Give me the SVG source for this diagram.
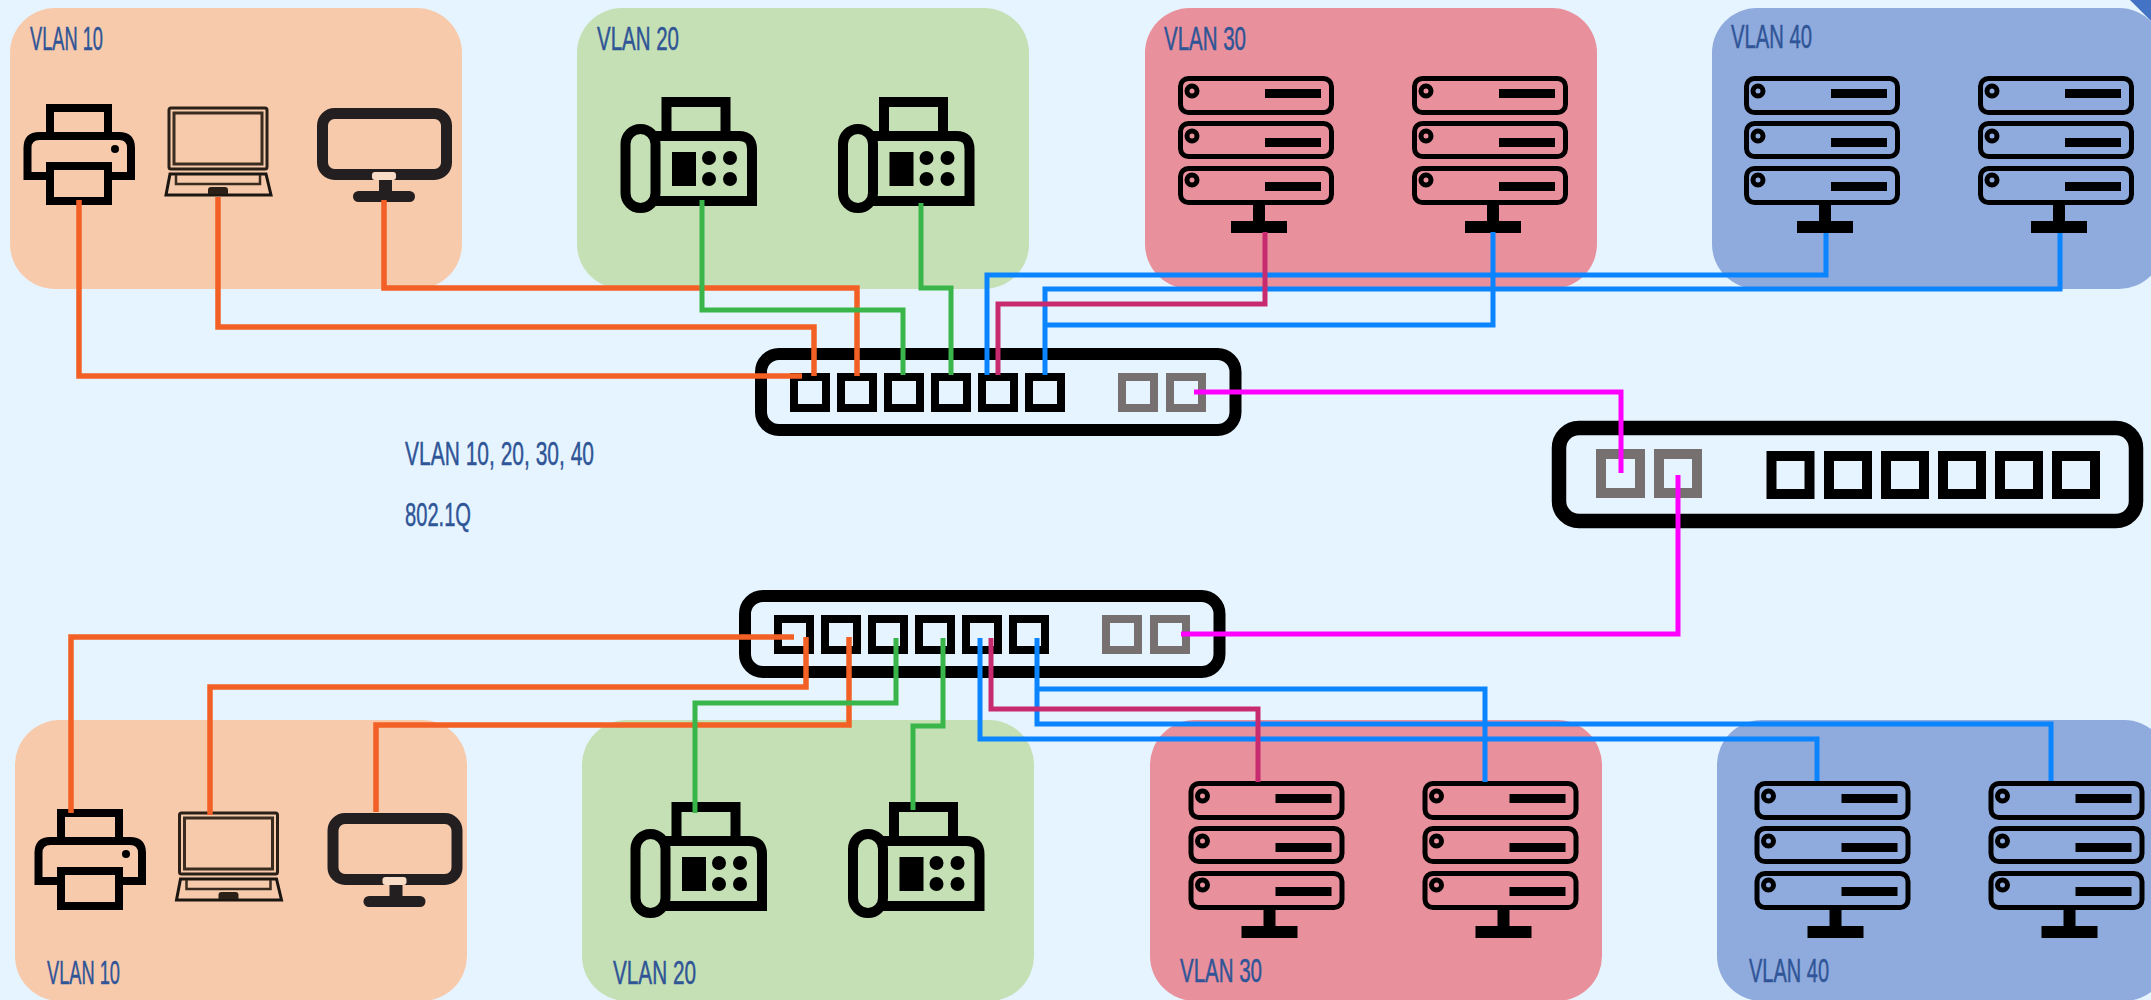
<svg xmlns="http://www.w3.org/2000/svg" width="2151" height="1000" viewBox="0 0 2151 1000">
<style>
.t{font-family:"Liberation Sans",Arial,sans-serif;font-size:33.5px;fill:#2f5597;stroke:#2f5597;stroke-width:.5px}
.p10{fill:#f7caac}.p20{fill:#c5e0b4}.p30{fill:#e8909c}.p40{fill:#8faadc}
.c{fill:none;stroke-width:5;stroke-linejoin:miter}
.o{stroke:#f26026;stroke-width:5.5}.g{stroke:#39b54a}.b{stroke:#0a84ff}.r{stroke:#c72a6e}.m{stroke:#ff00ff}
.k{fill:none;stroke:#000}
.pb{fill:none;stroke:#000;stroke-width:8}
.pg{fill:none;stroke:#767170;stroke-width:8}
</style>
<defs>
<g id="server">
<g class="k" stroke-width="5">
<rect x="1180.500" y="78.500" width="151" height="34" rx="8"/>
<rect x="1180.500" y="123.500" width="151" height="33" rx="8"/>
<rect x="1180.500" y="168.500" width="151" height="34" rx="8"/>
<circle cx="1192" cy="91" r="5"/><circle cx="1192" cy="136" r="5"/><circle cx="1192" cy="180" r="5"/>
</g>
<rect x="1265" y="89" width="56" height="9"/><rect x="1265" y="138" width="56" height="9"/><rect x="1265" y="182" width="56" height="9"/>
<rect x="1253" y="204" width="12" height="18"/><rect x="1231" y="221" width="56" height="12"/>
</g>
<g id="printer">
<path d="M50 134V108H108V134" class="k" stroke-width="8"/>
<path d="M50 176H27.500V148Q27.500 136 39.500 136H119Q131 136 131 148V176H108" class="k" stroke-width="8"/>
<rect x="50" y="166" width="58" height="35" class="k" stroke-width="8"/>
<circle cx="115" cy="149" r="4"/>
</g>
<g id="laptop">
<rect x="169" y="108" width="98" height="61" rx="2" fill="none" stroke="#2a2018" stroke-width="3"/>
<rect x="174" y="113" width="88" height="51" fill="none" stroke="#3a2c20" stroke-width="3"/>
<path d="M170 174H266L271 195H166Z" fill="none" stroke="#1c1612" stroke-width="3"/>
<path d="M176 175V184H260V175" fill="none" stroke="#3a2c20" stroke-width="2.500"/>
<path d="M208 194V190Q208 187 211 187H225Q228 187 228 190V194Z" fill="#2a2018"/>
</g>
<g id="monitor">
<rect x="322.500" y="113.500" width="124" height="61" rx="12" fill="none" stroke="#231f20" stroke-width="11"/>
<rect x="379" y="179" width="13" height="13" fill="#231f20"/>
<rect x="353" y="191" width="62" height="11" rx="5.500" fill="#231f20"/>
<rect x="372" y="172" width="24" height="8" rx="3" fill="#f9dcc6"/>
</g>
<g id="fax">
<path d="M666.500 134V102H725.500V134" class="k" stroke-width="10"/>
<path d="M655 136H739Q752 136 752 149V201H655" class="k" stroke-width="10"/>
<rect x="625.500" y="129" width="30" height="79" rx="15" class="k" stroke-width="10"/>
<rect x="672" y="152" width="24" height="34"/>
<circle cx="709" cy="158" r="7"/><circle cx="730" cy="158" r="7"/><circle cx="709" cy="179" r="7"/><circle cx="730" cy="179" r="7"/>
</g>
<g id="sw">
<rect x="761" y="354" width="474.500" height="76" rx="18" class="k" stroke-width="12"/>
<rect x="794" y="377" width="32" height="31" class="pb"/><rect x="841" y="377" width="32" height="31" class="pb"/><rect x="888" y="377" width="32" height="31" class="pb"/><rect x="935" y="377" width="32" height="31" class="pb"/><rect x="982" y="377" width="32" height="31" class="pb"/><rect x="1029" y="377" width="32" height="31" class="pb"/>
<rect x="1122" y="377" width="32" height="31" class="pg"/><rect x="1170" y="377" width="32" height="31" class="pg"/>
</g>
</defs>
<rect width="2151" height="1000" fill="#e6f4ff"/>
<polygon points="2130,0 2151,0 2151,21" fill="#4472c4"/>
<g id="vlan10-top"><rect class="p10" x="10" y="8" width="452" height="281" rx="45"/><use href="#printer"/><use href="#laptop"/><use href="#monitor"/><text class="t" x="30" y="50" textLength="73" lengthAdjust="spacingAndGlyphs">VLAN 10</text></g>
<g id="vlan20-top"><rect class="p20" x="577" y="8" width="452" height="281" rx="45"/><use href="#fax"/><use href="#fax" x="217.500"/><text class="t" x="597" y="50" textLength="82" lengthAdjust="spacingAndGlyphs">VLAN 20</text></g>
<g id="vlan30-top"><rect class="p30" x="1145" y="8" width="452" height="281" rx="45"/><use href="#server"/><use href="#server" x="234"/><text class="t" x="1164" y="50" textLength="82" lengthAdjust="spacingAndGlyphs">VLAN 30</text></g>
<g id="vlan40-top"><rect class="p40" x="1712" y="8" width="452" height="281" rx="45"/><use href="#server" x="566"/><use href="#server" x="800"/><text class="t" x="1731" y="48" textLength="81" lengthAdjust="spacingAndGlyphs">VLAN 40</text></g>
<g id="vlan10-bottom"><rect class="p10" x="15" y="720" width="452" height="281" rx="45"/><use href="#printer" x="11" y="705"/><use href="#laptop" x="10.500" y="705"/><use href="#monitor" x="10.500" y="705"/><text class="t" x="47" y="984" textLength="73" lengthAdjust="spacingAndGlyphs">VLAN 10</text></g>
<g id="vlan20-bottom"><rect class="p20" x="582" y="720" width="452" height="281" rx="45"/><use href="#fax" x="10" y="705"/><use href="#fax" x="227.500" y="705"/><text class="t" x="613" y="984" textLength="83" lengthAdjust="spacingAndGlyphs">VLAN 20</text></g>
<g id="vlan30-bottom"><rect class="p30" x="1150" y="720" width="452" height="281" rx="45"/><use href="#server" x="10.500" y="705"/><use href="#server" x="244.500" y="705"/><text class="t" x="1180" y="982" textLength="82" lengthAdjust="spacingAndGlyphs">VLAN 30</text></g>
<g id="vlan40-bottom"><rect class="p40" x="1717" y="720" width="452" height="281" rx="45"/><use href="#server" x="576.500" y="705"/><use href="#server" x="810.500" y="705"/><text class="t" x="1749" y="982" textLength="80" lengthAdjust="spacingAndGlyphs">VLAN 40</text></g>
<g id="switch-top"><use href="#sw"/></g>
<g id="switch-bottom"><use href="#sw" x="-16" y="242"/></g>
<g id="switch-core">
<rect x="1559" y="428" width="577" height="93" rx="20" class="k" stroke-width="14.500"/>
<g fill="none" stroke="#767170" stroke-width="10"><rect x="1601" y="454" width="39" height="39"/><rect x="1659" y="454" width="38" height="39"/></g>
<g fill="none" stroke="#000" stroke-width="10"><rect x="1771.500" y="456" width="38" height="38"/><rect x="1829" y="456" width="38" height="38"/><rect x="1886" y="456" width="38" height="38"/><rect x="1943" y="456" width="38" height="38"/><rect x="2000" y="456" width="38" height="38"/><rect x="2057" y="456" width="38" height="38"/></g>
</g>
<g id="trunk-label"><text class="t" x="405" y="465" textLength="189" lengthAdjust="spacingAndGlyphs">VLAN 10, 20, 30, 40</text><text class="t" x="405" y="526" textLength="66" lengthAdjust="spacingAndGlyphs">802.1Q</text></g>
<g id="connectors">
<path class="c o" d="M79 200V376H802"/>
<path class="c o" d="M218 197V327H814V376"/>
<path class="c o" d="M384 200V288H857V376"/>
<path class="c g" d="M702 200V310H903V375"/>
<path class="c g" d="M921 203V288H951V375"/>
<path class="c b" d="M987 375V275H1826V233"/>
<path class="c b" d="M1045 375V289H2060V233"/>
<path class="c r" d="M998 375V304H1265V232"/>
<path class="c b" d="M1045 325H1493V232"/>
<path class="c m" d="M1194 392H1621V473"/>
<path class="c m" d="M1678 475V634H1181"/>
<path class="c o" d="M71 813V637H794"/>
<path class="c o" d="M210 815V687H806V637"/>
<path class="c o" d="M376 812V725H849V637"/>
<path class="c g" d="M695 813V703H896V638"/>
<path class="c g" d="M913 810V726H943V638"/>
<path class="c b" d="M980 638V739H1817V781"/>
<path class="c b" d="M1037 638V724H2051V781"/>
<path class="c r" d="M991 638V709H1258V782"/>
<path class="c b" d="M1037 689H1485V782"/>
</g>
</svg>
